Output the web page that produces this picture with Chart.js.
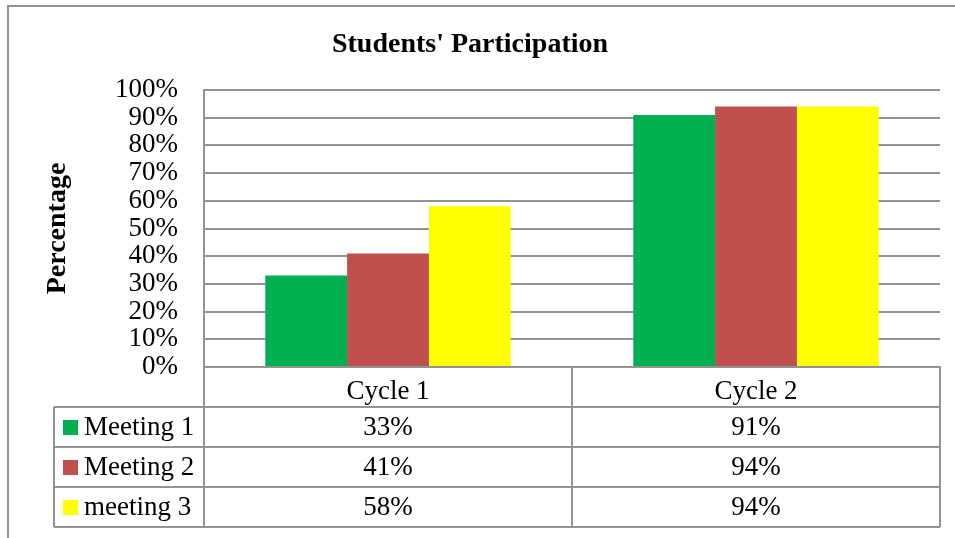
<!DOCTYPE html>
<html>
<head>
<meta charset="utf-8">
<title>Students' Participation</title>
<script src="https://cdn.jsdelivr.net/npm/chart.js@4.4.1/dist/chart.umd.min.js"></script>
<style>
    body { margin: 0; background: #fff; }
    #participationChart { display: block; }
</style>
</head>
<body>
<canvas id="participationChart" width="955" height="538"></canvas>
<script>
    // data
    const categories = ['Cycle 1', 'Cycle 2'];
    const seriesNames = ['Meeting 1', 'Meeting 2', 'meeting 3'];
    const meeting1 = [33, 91];
    const meeting2 = [41, 94];
    const meeting3 = [58, 94];
    const seriesColors = ['#00B050', '#C0504D', '#FFFF00'];

    const lineColor = '#939393';
    const serif = "'Liberation Serif', 'Times New Roman', serif";
    const rowHeight = 40;

    // draws the outer frame and the data table under the axis
    const tablePlugin = {
        id: 'dataTable',
        beforeDraw(chart) {
            const ctx = chart.ctx;
            ctx.save();
            ctx.strokeStyle = lineColor;
            ctx.lineWidth = 2;
            ctx.beginPath();
            ctx.moveTo(8, chart.height);
            ctx.lineTo(8, 6);
            ctx.lineTo(chart.width, 6);
            ctx.stroke();
            ctx.restore();
        },
        afterDraw(chart) {
            const ctx = chart.ctx;
            const area = chart.chartArea;
            const xScale = chart.scales.x;
            const legendLeft = 54;
            const top = area.bottom;
            const rows = chart.data.datasets.length;
            const bottom = top + rowHeight * (rows + 1);

            ctx.save();
            ctx.strokeStyle = lineColor;
            ctx.lineWidth = 2;
            ctx.beginPath();
            // horizontal lines
            for (let r = 1; r <= rows + 1; r++) {
                const y = top + rowHeight * r;
                ctx.moveTo(legendLeft, y);
                ctx.lineTo(area.right, y);
            }
            // vertical lines
            ctx.moveTo(legendLeft, top + rowHeight);
            ctx.lineTo(legendLeft, bottom);
            ctx.moveTo(area.left, top);
            ctx.lineTo(area.left, bottom);
            for (let i = 0; i < categories.length; i++) {
                const xr = i < categories.length - 1
                    ? (xScale.getPixelForValue(i) + xScale.getPixelForValue(i + 1)) / 2
                    : area.right;
                ctx.moveTo(xr, top);
                ctx.lineTo(xr, bottom);
            }
            ctx.stroke();

            // legend keys + values
            ctx.font = '27px ' + serif;
            ctx.textBaseline = 'middle';
            chart.data.datasets.forEach((ds, r) => {
                const yc = top + rowHeight * (r + 1) + rowHeight / 2;
                ctx.fillStyle = ds.backgroundColor;
                ctx.fillRect(63, yc - 7, 15, 15);
                ctx.fillStyle = '#000';
                ctx.textAlign = 'left';
                ctx.fillText(ds.label, 84, yc + 1);
                ctx.textAlign = 'center';
                ds.data.forEach((v, i) => {
                    ctx.fillText(v + '%', xScale.getPixelForValue(i), yc + 1);
                });
            });
            ctx.restore();
        }
    };

    const ctx = document.getElementById('participationChart').getContext('2d');
    const participationChart = new Chart(ctx, {
        type: 'bar',
        data: {
            labels: categories,
            datasets: [meeting1, meeting2, meeting3].map((values, i) => ({
                label: seriesNames[i],
                data: values,
                backgroundColor: seriesColors[i],
                borderWidth: 0,
                categoryPercentage: 0.667,
                barPercentage: 1
            }))
        },
        options: {
            responsive: false,
            animation: false,
            devicePixelRatio: 1,
            layout: {
                padding: { left: 0, right: 15, top: 0, bottom: 0 }
            },
            plugins: {
                legend: { display: false },
                tooltip: { enabled: false },
                title: {
                    display: true,
                    text: "Students' Participation",
                    color: '#000',
                    font: { family: serif, size: 28, weight: 'bold' },
                    padding: { top: 28, bottom: 28.4 }
                }
            },
            scales: {
                x: {
                    grid: { display: false },
                    border: { display: true, color: lineColor, width: 2 },
                    ticks: {
                        color: '#000',
                        font: { family: serif, size: 27 },
                        padding: 1
                    },
                    afterFit: (scale) => { scale.height = 171; }
                },
                y: {
                    min: 0,
                    max: 100,
                    grid: { color: lineColor, lineWidth: 2, drawTicks: false },
                    border: { display: true, color: lineColor, width: 2 },
                    ticks: {
                        stepSize: 10,
                        autoSkip: false,
                        color: '#000',
                        padding: 26,
                        font: { family: serif, size: 27 },
                        callback: (v) => v + '%'
                    },
                    title: {
                        display: true,
                        text: 'Percentage',
                        color: '#000',
                        font: { family: serif, size: 28, weight: 'bold' },
                        padding: { top: 41, bottom: 0 }
                    },
                    afterFit: (scale) => { scale.width = 204; }
                }
            }
        },
        plugins: [tablePlugin]
    });
</script>
</body>
</html>
